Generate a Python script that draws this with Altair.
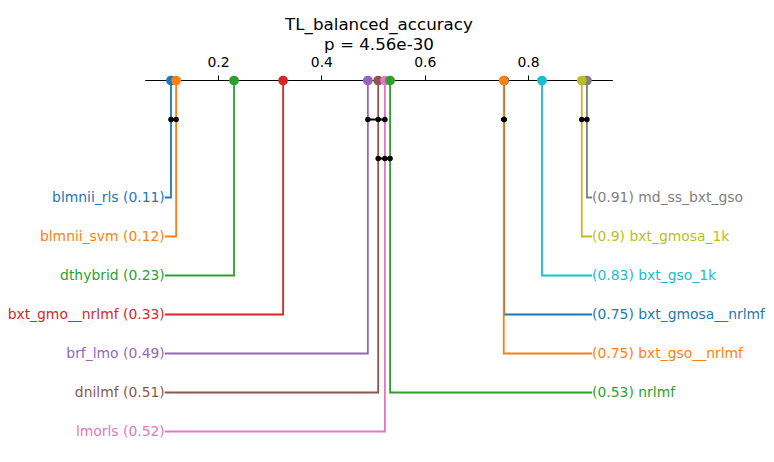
import altair as alt
import pandas as pd

# ---- data ----
title_lines = ["TL_balanced_accuracy", "p = 4.56e-30"]
tick_values = [0.2, 0.4, 0.6, 0.8]

# methods in drawing order (later ones drawn on top)
method_names = ["blmnii_rls", "blmnii_svm", "dthybrid", "bxt_gmo__nrlmf", "brf_lmo",
                "dnilmf", "lmorls", "md_ss_bxt_gso", "bxt_gmosa_1k", "bxt_gso_1k",
                "bxt_gmosa__nrlmf", "bxt_gso__nrlmf", "nrlmf"]
method_values = [0.109, 0.119, 0.231, 0.326, 0.490,
                 0.510, 0.523, 0.914, 0.904, 0.827,
                 0.754, 0.753, 0.533]
method_colors = ["#1f77b4", "#ff7f0e", "#2ca02c", "#d62728", "#9467bd",
                 "#8c564b", "#e377c2", "#7f7f7f", "#bcbd22", "#17becf",
                 "#1f77b4", "#ff7f0e", "#2ca02c"]

# label order, top to bottom
left_order = ["blmnii_rls", "blmnii_svm", "dthybrid", "bxt_gmo__nrlmf", "brf_lmo", "dnilmf", "lmorls"]
right_order = ["md_ss_bxt_gso", "bxt_gmosa_1k", "bxt_gso_1k", "bxt_gmosa__nrlmf", "bxt_gso__nrlmf", "nrlmf"]

# cliques: (row, members)
cliques = [
    (1, ["blmnii_rls", "blmnii_svm"]),
    (1, ["brf_lmo", "dnilmf", "lmorls"]),
    (1, ["bxt_gmosa__nrlmf", "bxt_gso__nrlmf"]),
    (1, ["bxt_gmosa_1k", "md_ss_bxt_gso"]),
    (2, ["dnilmf", "lmorls", "nrlmf"]),
]

# ---- layout constants ----
FIRST_LABEL_ROW = 3
LEFT_END = 0.097
RIGHT_END = 0.924
AXIS_PAD = 0.05
FONT = "DejaVu Sans"

val = dict(zip(method_names, method_values))

rows = {}
side = {}
for i, n in enumerate(left_order):
    rows[n] = FIRST_LABEL_ROW + i
    side[n] = "left"
for i, n in enumerate(right_order):
    rows[n] = FIRST_LABEL_ROW + i
    side[n] = "right"

methods = pd.DataFrame({
    "name": method_names,
    "value": method_values,
    "draw": list(range(len(method_names))),
})
methods["row"] = methods["name"].map(rows)
methods["side"] = methods["name"].map(side)
methods["end"] = methods["side"].map({"left": LEFT_END, "right": RIGHT_END})
methods["zero"] = 0
methods["label"] = [
    f"{n} ({round(v, 2)})" if side[n] == "left" else f"({round(v, 2)}) {n}"
    for n, v in zip(method_names, method_values)
]

path_rows = []
for i, r in methods.iterrows():
    path_rows.append({"name": r["name"], "step": 0, "x": r["value"], "y": 0, "draw": r["draw"]})
    path_rows.append({"name": r["name"], "step": 1, "x": r["value"], "y": r["row"], "draw": r["draw"]})
    path_rows.append({"name": r["name"], "step": 2, "x": r["end"], "y": r["row"], "draw": r["draw"]})
paths = pd.DataFrame(path_rows)

clique_rows = []
for k, (row, members) in enumerate(cliques):
    for m in members:
        clique_rows.append({"clique": k, "x": val[m], "y": row})
clq = pd.DataFrame(clique_rows).sort_values(["clique", "x"])

lo = min(method_values) - AXIS_PAD
hi = max(method_values) + AXIS_PAD
axis_df = pd.DataFrame({"x": [lo], "x2": [hi], "y": [0]})
title_df = pd.DataFrame({"x": [(lo + hi) / 2]})

# ---- scales ----
W, H = 774, 462
xscale = alt.Scale(domain=[-0.2219, 1.2760], nice=False, zero=False)
yscale = alt.Scale(domain=[-2.0641, 9.7819], nice=False, zero=False, reverse=True)
cscale = alt.Scale(domain=method_names, range=method_colors)

xaxis = alt.Axis(orient="top", values=tick_values, offset=-80, domain=False, grid=False,
                 tickSize=5, tickColor="black", tickWidth=1, labelFont=FONT,
                 labelFontSize=13.9, labelColor="black", labelPadding=6,
                 labelFlush=False, labelOverlap=False, title=None, format=".1f")

X = lambda f: alt.X(f, type="quantitative", scale=xscale, axis=xaxis)
Y = lambda f: alt.Y(f, type="quantitative", scale=yscale, axis=None)

axis_rule = alt.Chart(axis_df).mark_rule(color="black", strokeWidth=1).encode(
    x=X("x"), x2="x2:Q", y=Y("y"),
)

lines = alt.Chart(paths).mark_line(strokeWidth=1.8, strokeJoin="miter").encode(
    x=X("x"), y=Y("y"),
    color=alt.Color("name:N", scale=cscale, legend=None),
    detail="name:N",
    order="step:Q",
)

dots = alt.Chart(methods).mark_circle(size=95, opacity=1).encode(
    x=X("value"), y=Y("zero"),
    color=alt.Color("name:N", scale=cscale, legend=None),
    order="draw:Q",
)

clique_lines = alt.Chart(clq).mark_line(color="black", strokeWidth=2).encode(
    x=X("x"), y=Y("y"), detail="clique:N", order="x:Q",
)
clique_dots = alt.Chart(clq).mark_circle(color="black", size=30, opacity=1).encode(
    x=X("x"), y=Y("y"),
)

left_text = alt.Chart(methods[methods["side"] == "left"]).mark_text(
    align="right", baseline="middle", font=FONT, fontSize=13.9
).encode(
    x=X("end"), y=Y("row"), text="label:N",
    color=alt.Color("name:N", scale=cscale, legend=None),
)
right_text = alt.Chart(methods[methods["side"] == "right"]).mark_text(
    align="left", baseline="middle", font=FONT, fontSize=13.9
).encode(
    x=X("end"), y=Y("row"), text="label:N",
    color=alt.Color("name:N", scale=cscale, legend=None),
)

title = alt.Chart(title_df).mark_text(
    align="center", baseline="middle", font=FONT, fontSize=16.7, color="black", lineHeight=20
).encode(
    x=X("x"), y=alt.value(25), text=alt.value(title_lines),
)

chart = alt.layer(
    axis_rule, lines, dots, clique_lines, clique_dots, left_text, right_text, title
).properties(
    width=W, height=H, autosize=alt.AutoSizeParams(type="none"), padding=0,
    background="white",
).configure_view(stroke=None)

chart.save("out.html", embed_options={"renderer": "svg", "actions": False})
